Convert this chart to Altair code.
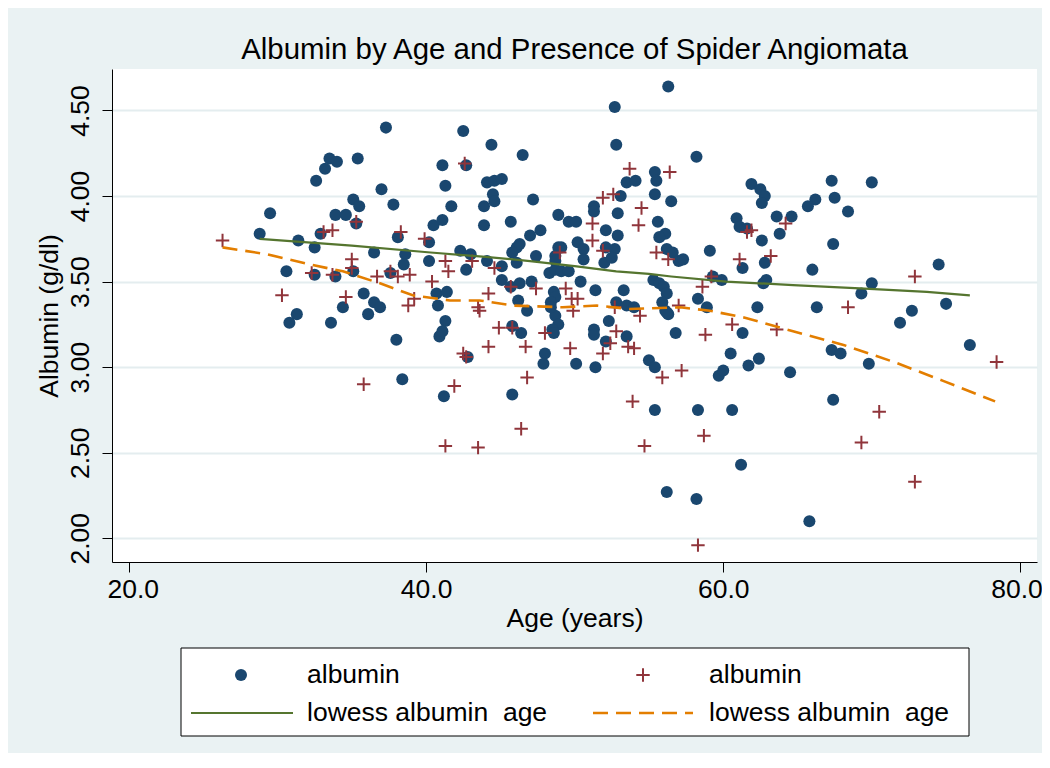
import altair as alt
import pandas as pd

# ---- data ----
# patients without spider angiomata (navy dots)
no_age = [28.8, 29.5, 30.6, 31.4, 32.5, 32.6, 33.2, 33.5, 34.0, 35.4, 37.3, 37.0, 37.8, 33.9, 34.6,
          35.1, 35.5, 35.3, 32.9, 32.5, 33.9, 35.1, 36.5, 38.1, 38.6, 38.5, 37.6, 35.8, 36.5, 36.9,
          34.4, 36.1, 31.3, 30.8, 33.6, 40.2, 40.5, 41.1, 41.1, 41.3, 40.2, 40.7, 40.8, 41.3, 41.4,
          38.0, 38.4, 41.2, 40.9, 41.1, 42.5, 44.4, 46.5, 52.7, 52.8, 56.3, 42.7, 44.1, 44.6, 45.1,
          44.5, 44.6, 43.9, 43.9, 41.7, 45.7, 47.2, 47.0, 47.7, 48.9, 49.6, 50.1, 51.3, 51.3, 52.9,
          53.1, 53.5, 54.1, 55.4, 55.5, 55.4, 56.5, 55.6, 52.1, 52.9, 50.2, 50.6, 50.6, 48.9, 49.1,
          48.7, 48.7, 46.1, 46.3, 45.8, 46.1, 47.4, 52.1, 52.7, 52.0, 52.5, 56.1, 55.7, 56.2, 56.6,
          57.0, 42.3, 43.0, 42.7, 44.1, 45.1, 45.1, 45.7, 46.3, 47.1, 48.3, 48.7, 49.1, 49.6, 50.4,
          48.6, 48.7, 48.4, 51.4, 53.3, 52.3, 51.3, 52.8, 53.5, 54.0, 55.3, 55.7, 56.0, 56.2, 55.9,
          56.1, 56.3, 45.8, 48.7, 48.9, 46.2, 46.8, 48.5, 42.8, 45.8, 46.4, 48.0, 47.9, 48.6, 48.4,
          50.1, 51.3, 51.4, 52.1, 53.5, 55.0, 55.4, 55.4, 56.2, 56.8, 58.2, 61.9, 62.5, 62.8, 62.6,
          67.3, 70.0, 67.5, 66.2, 65.7, 68.4, 63.6, 64.6, 63.8, 60.9, 61.1, 61.6, 62.6, 67.4, 57.3,
          59.1, 61.3, 62.8, 66.0, 74.5, 59.3, 59.9, 62.7, 62.9, 70.0, 69.3, 75.0, 58.3, 58.9, 62.3,
          66.3, 72.7, 71.9, 56.2, 61.3, 60.5, 62.4, 61.7, 59.7, 60.0, 64.5, 76.6, 67.3, 67.9, 69.8,
          67.4, 58.3, 60.6, 61.2, 58.2, 65.8]
no_alb = [3.78, 3.90, 3.56, 3.74, 3.70, 4.09, 4.16, 4.22, 4.20, 4.22, 4.40, 4.04, 3.95, 3.89, 3.89,
          3.98, 3.94, 3.84, 3.78, 3.54, 3.53, 3.56, 3.67, 3.76, 3.66, 3.60, 3.55, 3.43, 3.38, 3.35,
          3.35, 3.31, 3.31, 3.26, 3.26, 3.73, 3.83, 3.86, 4.18, 4.06, 3.62, 3.43, 3.36, 3.27, 3.44,
          3.16, 2.93, 2.83, 3.18, 3.21, 4.38, 4.30, 4.24, 4.52, 4.30, 4.64, 4.18, 4.08, 4.09, 4.10,
          4.01, 3.97, 3.94, 3.83, 3.94, 3.85, 3.98, 3.77, 3.80, 3.89, 3.85, 3.85, 3.94, 3.91, 3.90,
          4.00, 4.08, 4.09, 4.14, 4.09, 4.01, 3.97, 3.85, 3.80, 3.77, 3.73, 3.69, 3.63, 3.70, 3.70,
          3.65, 3.62, 3.70, 3.72, 3.67, 3.61, 3.65, 3.70, 3.69, 3.61, 3.64, 3.78, 3.76, 3.69, 3.67,
          3.62, 3.68, 3.66, 3.57, 3.62, 3.59, 3.51, 3.47, 3.49, 3.50, 3.55, 3.57, 3.56, 3.56, 3.50,
          3.44, 3.41, 3.38, 3.45, 3.45, 3.27, 3.22, 3.38, 3.36, 3.35, 3.51, 3.49, 3.47, 3.43, 3.38,
          3.33, 3.31, 3.24, 3.30, 3.25, 3.39, 3.33, 3.22, 3.06, 2.84, 3.20, 3.08, 3.02, 3.20, 3.35,
          3.02, 3.19, 3.00, 3.15, 3.18, 3.04, 3.00, 2.75, 2.27, 3.20, 4.23, 4.07, 4.04, 4.00, 3.96,
          4.09, 4.08, 3.99, 3.98, 3.94, 3.91, 3.88, 3.88, 3.78, 3.87, 3.82, 3.81, 3.74, 3.72, 3.63,
          3.68, 3.58, 3.61, 3.57, 3.60, 3.53, 3.51, 3.49, 3.51, 3.49, 3.43, 3.37, 3.40, 3.35, 3.35,
          3.35, 3.33, 3.26, 3.32, 3.20, 3.08, 3.05, 3.01, 2.95, 2.98, 2.97, 3.13, 3.10, 3.08, 3.02,
          2.81, 2.75, 2.75, 2.43, 2.23, 2.10]

# patients with spider angiomata (maroon crosses)
sp_age = [26.3, 30.3, 32.3, 33.1, 33.7, 35.3, 35.0, 35.0, 33.7, 34.6, 36.7, 37.6, 38.1, 38.9, 38.3,
          39.9, 40.4, 41.3, 41.5, 39.2, 38.8, 35.8, 41.3, 42.6, 53.7, 56.4, 51.9, 52.6, 54.5, 54.3,
          51.2, 51.2, 51.9, 49.0, 55.5, 56.3, 43.1, 44.6, 45.7, 47.4, 44.2, 43.5, 43.6, 49.4, 49.8,
          50.2, 49.9, 52.7, 54.4, 57.0, 44.9, 45.8, 42.5, 42.7, 44.2, 46.7, 48.0, 49.7, 52.8, 52.4,
          51.9, 53.6, 54.0, 55.9, 46.8, 41.9, 53.9, 46.4, 43.5, 54.7, 61.9, 61.6, 64.2, 63.2, 61.1,
          59.2, 58.6, 72.9, 68.4, 58.8, 60.6, 63.6, 57.2, 78.4, 70.5, 69.3, 72.9, 58.7, 58.3]
sp_alb = [3.74, 3.42, 3.55, 3.79, 3.80, 3.85, 3.63, 3.58, 3.54, 3.41, 3.53, 3.56, 3.53, 3.54, 3.79,
          3.75, 3.50, 3.62, 3.56, 3.40, 3.36, 2.90, 2.54, 4.19, 4.16, 4.14, 3.99, 4.01, 3.93, 3.83,
          3.84, 3.74, 3.68, 3.67, 3.67, 3.63, 3.62, 3.58, 3.47, 3.46, 3.43, 3.35, 3.33, 3.46, 3.40,
          3.40, 3.33, 3.35, 3.30, 3.36, 3.23, 3.23, 3.08, 3.06, 3.12, 3.12, 3.20, 3.11, 3.21, 3.14,
          3.08, 3.12, 3.11, 2.94, 2.94, 2.89, 2.80, 2.64, 2.53, 2.54, 3.80, 3.79, 3.84, 3.65, 3.63,
          3.53, 3.47, 3.53, 3.35, 3.19, 3.25, 3.22, 2.98, 3.03, 2.74, 2.56, 2.33, 2.60, 1.96]

# lowess smooths
low_no_age = [28.8, 35.0, 40.3, 44.0, 47.0, 50.0, 52.8, 55.0, 56.5, 60.2, 64.7, 69.2, 73.7, 76.6]
low_no_alb = [3.75, 3.71, 3.67, 3.645, 3.62, 3.59, 3.56, 3.545, 3.53, 3.50, 3.48, 3.46, 3.44, 3.42]
low_sp_age = [26.3, 29.3, 32.2, 34.4, 36.9, 39.1, 41.6, 43.6, 45.9, 49.2, 51.5, 53.7, 57.1, 59.1,
              61.4, 64.7, 68.1, 71.5, 74.8, 78.3]
low_sp_alb = [3.70, 3.66, 3.60, 3.56, 3.49, 3.42, 3.39, 3.39, 3.36, 3.35, 3.36, 3.34, 3.35, 3.33,
              3.29, 3.21, 3.13, 3.03, 2.92, 2.80]

title_text = "Albumin by Age and Presence of Spider Angiomata"
x_title = "Age (years)"
y_title = "Albumin (g/dl)"
x_ticks = [20, 40, 60, 80]
y_ticks = [2.0, 2.5, 3.0, 3.5, 4.0, 4.5]
# the double space is kept with a no-break space (SVG collapses plain spaces)
legend_labels = ["albumin", "albumin", "lowess albumin\u00a0 age", "lowess albumin\u00a0 age"]

# ---- style ----
NAVY = "#1A476F"
MAROON = "#90353B"
GREEN = "#55752F"
ORANGE = "#E37E00"
BG = "#EAF2F3"
GRID = "#E4EDEF"
FONT = "Liberation Sans"
FS = 26.5
PLUS = "M-1,0H1M0,-1V1"

df_no = pd.DataFrame({"age": no_age, "alb": no_alb})
df_sp = pd.DataFrame({"age": sp_age, "alb": sp_alb})
df_lno = pd.DataFrame({"age": low_no_age, "alb": low_no_alb})
df_lsp = pd.DataFrame({"age": low_sp_age, "alb": low_sp_alb})

x_scale = alt.Scale(domain=[18.86, 81.12], nice=False, zero=False)
y_scale = alt.Scale(domain=[1.8615, 4.7425], nice=False, zero=False)

x_axis = alt.Axis(values=x_ticks, format=".1f", title=x_title, grid=False,
                  labelPadding=4, titlePadding=3, tickSize=10,
                  labelFlush=20, labelFlushOffset=22)
y_axis = alt.Axis(values=y_ticks, format=".2f", title=y_title, grid=True,
                  gridColor=GRID, gridWidth=2, labelAngle=270, labelAlign="center",
                  labelBaseline="bottom", labelPadding=8, titlePadding=4, tickSize=10)

X = alt.X("age:Q", scale=x_scale, axis=x_axis)
Y = alt.Y("alb:Q", scale=y_scale, axis=y_axis)

dots = alt.Chart(df_no).mark_point(filled=True, size=145, color=NAVY, opacity=1).encode(x=X, y=Y)
crosses = alt.Chart(df_sp).mark_point(shape=PLUS, filled=False, size=180, strokeWidth=2,
                                      color=MAROON, opacity=1).encode(x="age:Q", y="alb:Q")
line_no = alt.Chart(df_lno).mark_line(color=GREEN, strokeWidth=2.2).encode(x="age:Q", y="alb:Q")
line_sp = alt.Chart(df_lsp).mark_line(color=ORANGE, strokeWidth=2.6, strokeDash=[15, 8]).encode(
    x="age:Q", y="alb:Q")

# ---- legend (drawn below the plot area) ----
one = pd.DataFrame({"k": [0]})
leg_box = alt.Chart(one).mark_rect(fill="white", stroke="black", strokeWidth=1).encode(
    x=alt.value(69), x2=alt.value(857), y=alt.value(579), y2=alt.value(667))
leg_dot = alt.Chart(one).mark_point(filled=True, size=145, color=NAVY, opacity=1).encode(
    x=alt.value(129), y=alt.value(606))
leg_cross = alt.Chart(one).mark_point(shape=PLUS, filled=False, size=180, strokeWidth=2,
                                      color=MAROON, opacity=1).encode(
    x=alt.value(531), y=alt.value(606))
leg_green = alt.Chart(one).mark_rule(color=GREEN, strokeWidth=2.2).encode(
    x=alt.value(79), x2=alt.value(181), y=alt.value(644))
leg_orange = alt.Chart(one).mark_rule(color=ORANGE, strokeWidth=2.6, strokeDash=[15, 8]).encode(
    x=alt.value(481), x2=alt.value(581), y=alt.value(644))

text_pos = [(195, 606), (597, 606), (195, 644), (597, 644)]
leg_texts = []
for lab, (px, py) in zip(legend_labels, text_pos):
    leg_texts.append(
        alt.Chart(pd.DataFrame({"label": [lab]})).mark_text(
            align="left", baseline="middle", font=FONT, fontSize=FS, color="black"
        ).encode(x=alt.value(px), y=alt.value(py), text="label:N")
    )

chart = alt.layer(
    dots, crosses, line_no, line_sp, leg_box, leg_dot, leg_cross, leg_green, leg_orange, *leg_texts
).properties(
    width=925, height=493,
    title=alt.TitleParams(title_text, font=FONT, fontSize=29.4, fontWeight="normal",
                          color="black", anchor="middle", offset=4),
    autosize=alt.AutoSizeParams(type="none"),
    padding={"left": 104, "top": 61, "right": 5, "bottom": 191},
).configure(
    background=BG, font=FONT
).configure_view(
    fill="white", strokeWidth=0
).configure_axis(
    domainColor="black", tickColor="black", labelColor="black", titleColor="black",
    labelFont=FONT, titleFont=FONT, labelFontSize=FS, titleFontSize=FS,
    titleFontWeight="normal", domainWidth=1, tickWidth=1
)

chart.save("out.html", embed_options={"renderer": "svg", "actions": False})
